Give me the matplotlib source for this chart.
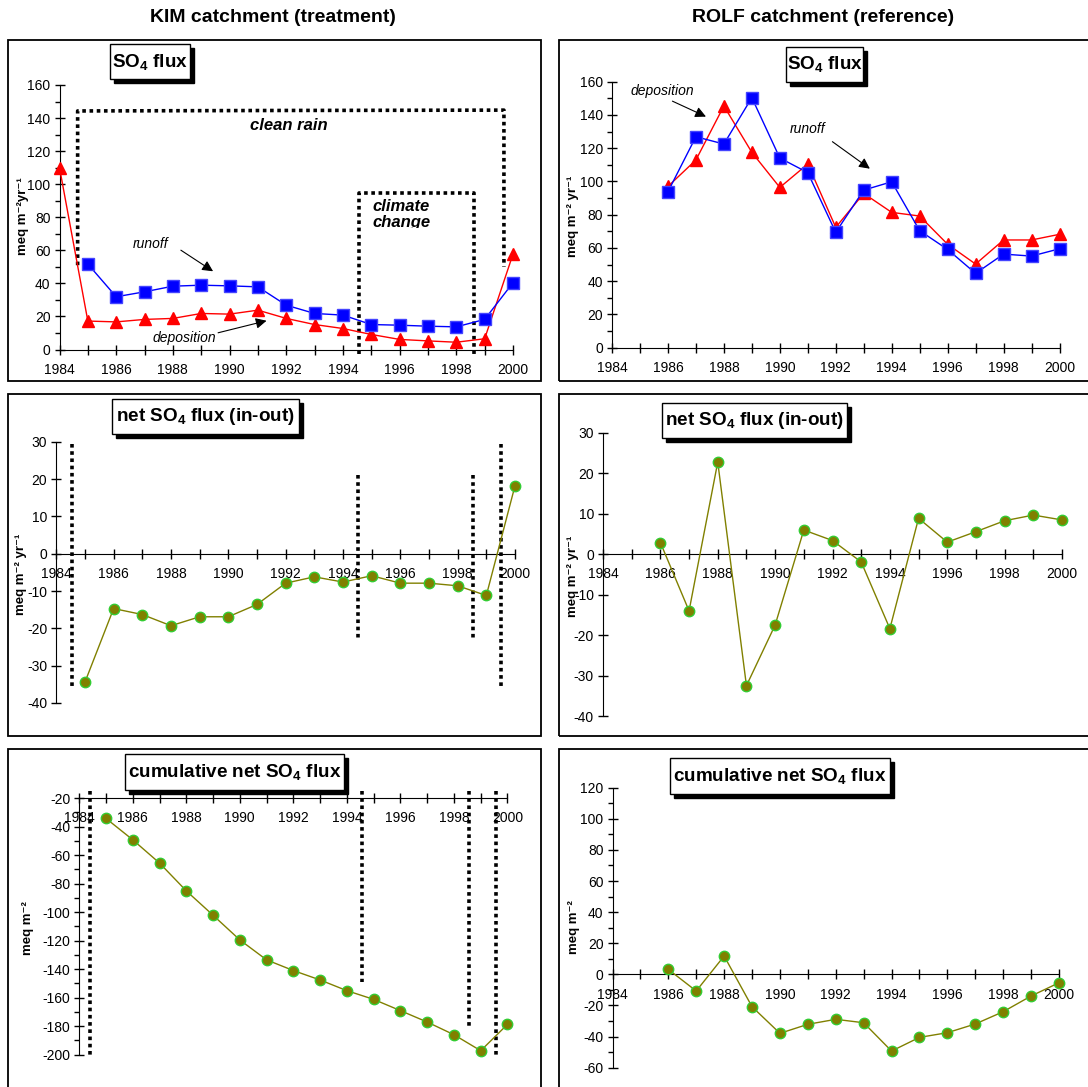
import matplotlib
matplotlib.use('Agg')
import matplotlib.pyplot as plt
from matplotlib.patches import Rectangle
from matplotlib.ticker import MultipleLocator

plt.rcParams['font.family'] = ['Liberation Sans', 'DejaVu Sans']
plt.rcParams['mathtext.fontset'] = 'custom'
plt.rcParams['mathtext.rm'] = 'Liberation Sans'
plt.rcParams['mathtext.bf'] = 'Liberation Sans:bold'
plt.rcParams['mathtext.it'] = 'Liberation Sans:italic'
plt.rcParams['axes.unicode_minus'] = False

# ---- data ----
kim_dep_years = list(range(1984, 2001))
kim_dep = [110, 17.2, 16.7, 18.2, 18.8, 21.8, 21.4, 23.8, 18.8, 15.1, 12.7, 9.1, 6.1, 5.2, 4.4, 6.5, 57.7]
kim_years = list(range(1985, 2001))
kim_run = [51.7, 31.9, 34.9, 38.3, 38.9, 38.5, 37.9, 26.8, 21.8, 20.8, 15.1, 14.7, 14.1, 13.7, 18.2, 40.4]
kim_net = [-34.4, -14.7, -16.3, -19.3, -16.9, -16.9, -13.6, -7.9, -6.2, -7.6, -5.9, -7.9, -7.9, -8.6, -11.2, 18.2]
kim_cum = [-34.3, -49.3, -65.6, -85.1, -102.2, -119.5, -133.5, -141.0, -147.6, -155.1, -161.2,
           -169.1, -177.1, -186.0, -197.2, -178.7]

rolf_years = list(range(1986, 2001))
rolf_dep = [97, 112.9, 145.4, 117.5, 96.4, 110.5, 72.4, 92.8, 81.4, 79.2, 62.2, 50.3, 64.8, 64.8, 68.2]
rolf_run = [93.8, 126.9, 122.5, 150.4, 114.1, 105.3, 69.4, 94.8, 99.8, 70.4, 59.1, 44.7, 56.3, 55.1, 59.5]
rolf_net = [2.9, -14.0, 22.8, -32.5, -17.5, 6.0, 3.4, -1.9, -18.4, 8.9, 3.0, 5.6, 8.3, 9.7, 8.5]
rolf_cum = [3.2, -10.7, 11.8, -20.8, -37.9, -32.1, -28.9, -31.1, -49.3, -40.5, -37.5, -31.9, -24.0, -13.9, -5.4]

year_ticks = list(range(1984, 2001))
year_labels = [str(y) if y % 2 == 0 else '' for y in year_ticks]

W, H = 1088, 1087
fig = plt.figure(figsize=(W / 100, H / 100), dpi=100)

RED = '#FF0000'
BLUE = '#0000FF'
OLIVE = '#808000'
GREEN = '#33CC33'


def px_rect(x0, y0, x1, y1, **kw):
    r = Rectangle((x0 / W, 1 - y1 / H), (x1 - x0) / W, (y1 - y0) / H,
                  transform=fig.transFigure, **kw)
    fig.patches.append(r)
    return r


def add_ax(x0, x1, y0, y1):
    ax = fig.add_axes([x0 / W, 1 - y1 / H, (x1 - x0) / W, (y1 - y0) / H])
    ax.patch.set_alpha(0)
    return ax


def title_box(x0, y0, x1, y1, text):
    px_rect(x0 + 4, y0 + 4, x1 + 4, y1 + 4, facecolor='black', edgecolor='black', zorder=5)
    px_rect(x0, y0, x1, y1, facecolor='white', edgecolor='black', lw=1.0, zorder=6)
    fig.text((x0 + x1) / 2 / W, 1 - (y0 + y1) / 2 / H, text, ha='center', va='center',
             fontsize=13.6, fontweight='bold', zorder=7)


def ylab(x, y, text):
    fig.text(x / W, 1 - y / H, text, rotation=90, ha='center', va='center',
             fontsize=9.5, fontweight='bold', family=['Liberation Sans', 'DejaVu Sans'])


def style(ax, ylim, major, minor, xaxis_at):
    ax.set_xlim(1984, 2000)
    ax.set_ylim(*ylim)
    for s in ['top', 'right']:
        ax.spines[s].set_visible(False)
    ax.spines['left'].set_position(('data', 1984))
    ax.spines['bottom'].set_position(('data', xaxis_at))
    ax.set_xticks(year_ticks)
    ax.set_xticklabels(year_labels)
    ax.yaxis.set_major_locator(MultipleLocator(major))
    if minor:
        ax.yaxis.set_minor_locator(MultipleLocator(minor))
    ax.tick_params(axis='both', which='major', direction='inout', length=7, width=1,
                   labelsize=10, pad=3)
    ax.tick_params(axis='x', which='major', pad=6)
    ax.tick_params(axis='y', which='minor', direction='out', length=3.5, width=1)


def dotted(ax, xs, ys):
    ax.plot(xs, ys, color='black', lw=2.6, linestyle=(0, (1, 1)), dash_capstyle='butt',
            clip_on=False, zorder=1)


green_kw = dict(color=OLIVE, lw=1.0, marker='o', ms=7.5, mfc=OLIVE, mec=GREEN, mew=1.0,
                clip_on=False, zorder=3)

# ---- panel frames ----
for (x0, y0, x1, y1) in [(8, 40, 541, 381), (559, 40, 1100, 381),
                         (8, 394, 541, 736), (559, 394, 1100, 736),
                         (8, 749, 541, 1100), (559, 749, 1100, 1100)]:
    px_rect(x0, y0, x1, y1, facecolor='none', edgecolor='black', lw=1.3, zorder=0)

fig.text(273 / W, 1 - 18 / H, 'KIM catchment (treatment)', ha='center', va='center',
         fontsize=14, fontweight='bold')
fig.text(823 / W, 1 - 18 / H, 'ROLF catchment (reference)', ha='center', va='center',
         fontsize=14, fontweight='bold')

ylab_flux = 'meq m\u207b\u00b2yr\u207b\u00b9'
ylab_flux_sp = 'meq m\u207b\u00b2 yr\u207b\u00b9'
ylab_cum = 'meq m\u207b\u00b2'

# ---- top left: KIM SO4 flux ----
ax = add_ax(59.5, 513, 85, 349.5)
style(ax, (0, 160), 20, 10, 0)
dotted(ax, [1984.64, 1984.64, 1992, 1999.68, 1999.68], [51, 144.3, 144.6, 144.8, 50])
dotted(ax, [1994.56, 1994.56, 1998.64, 1998.64], [-2.5, 94.4, 94.4, -2.5])
ax.plot(kim_dep_years, kim_dep, color=RED, lw=1.0, marker='^', ms=9, mfc=RED, mec=RED,
        clip_on=False, zorder=3)
ax.plot(kim_years, kim_run, color=BLUE, lw=1.0, marker='s', ms=8, mfc=BLUE, mec='#4444FF',
        clip_on=False, zorder=4)
ax.text(1992.1, 135.8, 'clean rain', ha='center', va='center', fontsize=12,
        fontweight='bold', style='italic')
cc = ax.text(1995.05, 91, 'climate\nchange', ha='left', va='top', fontsize=12,
             fontweight='bold', style='italic', linespacing=1.05, clip_on=True)
clip = Rectangle((1994.6, 73.5), 4, 30, transform=ax.transData)
cc.set_clip_path(clip)
ax.text(1987.2, 64, 'runoff', ha='center', va='center', fontsize=10, style='italic')
ax.annotate('', xy=(1989.5, 46.4), xytext=(1988.2, 61),
            arrowprops=dict(arrowstyle='-|>', color='black', lw=0.8, mutation_scale=16))
ax.text(1988.4, 6.7, 'deposition', ha='center', va='center', fontsize=10, style='italic')
ax.annotate('', xy=(1991.4, 17.8), xytext=(1989.5, 9.7),
            arrowprops=dict(arrowstyle='-|>', color='black', lw=0.8, mutation_scale=16))
title_box(110, 44, 190, 79, r'SO$_{\mathbf{4}}$ flux')
ylab(22.6, 216, ylab_flux)

# ---- top right: ROLF SO4 flux ----
ax = add_ax(612, 1059.5, 81.7, 347.7)
style(ax, (0, 160), 20, 10, 0)
ax.plot(rolf_years, rolf_dep, color=RED, lw=1.0, marker='^', ms=9, mfc=RED, mec=RED,
        clip_on=False, zorder=3)
ax.plot(rolf_years, rolf_run, color=BLUE, lw=1.0, marker='s', ms=8, mfc=BLUE, mec='#4444FF',
        clip_on=False, zorder=4)
ax.text(1985.8, 154.6, 'deposition', ha='center', va='center', fontsize=10, style='italic')
ax.annotate('', xy=(1987.45, 138.3), xytext=(1986.07, 149),
            arrowprops=dict(arrowstyle='-|>', color='black', lw=0.8, mutation_scale=16))
ax.text(1991.0, 131.3, 'runoff', ha='center', va='center', fontsize=10, style='italic')
ax.annotate('', xy=(1993.3, 106.7), xytext=(1991.8, 124.9),
            arrowprops=dict(arrowstyle='-|>', color='black', lw=0.8, mutation_scale=16))
title_box(786, 47, 863, 82, r'SO$_{\mathbf{4}}$ flux')
ylab(572.7, 216, ylab_flux_sp)

# ---- middle left: KIM net ----
ax = add_ax(56.3, 515, 441.7, 703)
style(ax, (-40, 30), 10, None, 0)
dotted(ax, [1984.55, 1984.55], [29.3, -35.8])
dotted(ax, [1994.54, 1994.54], [21, -22.7])
dotted(ax, [1998.54, 1998.54], [21, -22.7])
dotted(ax, [1999.51, 1999.51], [29.3, -35.8])
ax.plot(kim_years, kim_net, **green_kw)
title_box(112, 399, 299, 434, r'net SO$_{\mathbf{4}}$ flux (in-out)')
ylab(21.5, 574, ylab_flux_sp)

# ---- middle right: ROLF net ----
ax = add_ax(603, 1062, 433, 716)
style(ax, (-40, 30), 10, None, 0)
ax.plot(rolf_years, rolf_net, **green_kw)
title_box(662, 403, 847, 438, r'net SO$_{\mathbf{4}}$ flux (in-out)')
ylab(572.7, 576, ylab_flux_sp)

# ---- bottom left: KIM cumulative ----
ax = add_ax(79.2, 507.5, 798, 1054.7)
style(ax, (-200, -20), 20, 10, -20)
dotted(ax, [1984.42, 1984.42], [-15.3, -201.4])
dotted(ax, [1994.58, 1994.58], [-15.3, -148.7])
dotted(ax, [1998.57, 1998.57], [-15.3, -182.2])
dotted(ax, [1999.58, 1999.58], [-15.3, -201.4])
ax.plot(kim_years, kim_cum, **green_kw)
title_box(125, 754, 344, 790, r'cumulative net SO$_{\mathbf{4}}$ flux')
ylab(27.8, 928, ylab_cum)

# ---- bottom right: ROLF cumulative ----
ax = add_ax(612.5, 1059, 787.7, 1067.7)
style(ax, (-60, 120), 20, 10, 0)
ax.plot(rolf_years, rolf_cum, **green_kw)
title_box(670, 758, 890, 794, r'cumulative net SO$_{\mathbf{4}}$ flux')
ylab(574.4, 927, ylab_cum)

fig.savefig('out.png', dpi=100)
